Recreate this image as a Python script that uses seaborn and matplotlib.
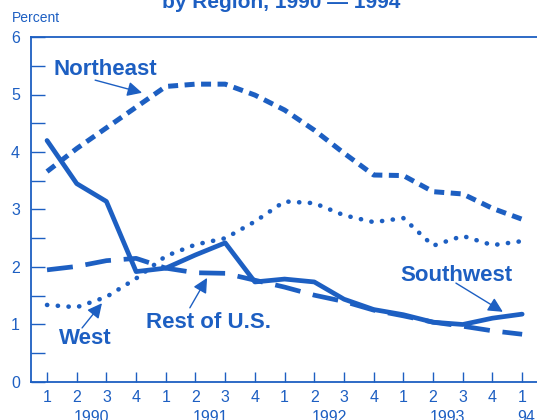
import numpy as np
import pandas as pd
import seaborn as sns
import matplotlib.pyplot as plt

# quarterly values, 1990 Q1 .. 1994 Q1 (percent)
quarters = ['1', '2', '3', '4'] * 4 + ['1']
years = ['1990', '1991', '1992', '1993', '94']
year_pos = [1.5, 5.5, 9.5, 13.5, 16.15]

northeast = [3.66, 4.06, 4.42, 4.78, 5.14, 5.18, 5.18, 4.99, 4.73, 4.38, 3.98, 3.60, 3.59, 3.31, 3.27, 3.02, 2.83]
southwest = [4.20, 3.45, 3.14, 1.92, 1.98, 2.21, 2.42, 1.74, 1.79, 1.74, 1.44, 1.26, 1.17, 1.04, 1.00, 1.11, 1.18]
west = [1.34, 1.30, 1.48, 1.80, 2.19, 2.39, 2.50, 2.79, 3.14, 3.11, 2.90, 2.78, 2.85, 2.37, 2.54, 2.38, 2.45]
rest_us = [1.95, 2.01, 2.11, 2.15, 1.98, 1.90, 1.89, 1.77, 1.65, 1.51, 1.40, 1.25, 1.15, 1.04, 0.97, 0.89, 0.83]

blue = '#1d5fc2'

sns.set_theme(style='white')
plt.rcParams['font.family'] = ['Liberation Sans', 'DejaVu Sans']

df = pd.DataFrame({'t': np.arange(len(quarters)),
                   'Northeast': northeast, 'Southwest': southwest,
                   'West': west, 'Rest of U.S.': rest_us})

fig = plt.figure(figsize=(5.37, 4.2), dpi=100)
ax = fig.add_axes([0.0577, 0.0905, 0.9423, 0.8214])

# line styles per region
styles = {
    'Northeast': dict(linestyle=(0, (2.0, 1.3)), linewidth=3.6),
    'Southwest': dict(linestyle='-', linewidth=3.4),
    'West': dict(linestyle=(0, (0.05, 2.3)), linewidth=3.3, dash_capstyle='round'),
    'Rest of U.S.': dict(linestyle=(0, (5.5, 2.7)), linewidth=3.4),
}
for name, kw in styles.items():
    sns.lineplot(data=df, x='t', y=name, ax=ax, color=blue, **kw)

ax.set_xlim(-0.54, 16.5)
ax.set_ylim(0, 6)
ax.set_xlabel('')
ax.set_ylabel('')

ax.set_xticks(np.arange(len(quarters)))
ax.set_xticklabels(quarters)
ax.set_yticks(range(7))
ax.set_yticks(np.arange(0.5, 6, 1.0), minor=True)
ax.tick_params(axis='x', direction='in', length=7, width=1, color=blue,
               labelcolor=blue, labelsize=11.5, pad=6, bottom=True)
ax.tick_params(axis='y', which='both', direction='in', length=10, width=1,
               color=blue, labelcolor=blue, labelsize=11.5, pad=8, left=True)

for side in ['left', 'bottom', 'top']:
    ax.spines[side].set_color(blue)
    ax.spines[side].set_linewidth(1.3)
ax.spines['right'].set_visible(False)

for pos, yr in zip(year_pos, years):
    ax.text(pos, -0.49, yr, ha='center', va='top', color=blue, fontsize=11.5,
            transform=ax.transData, clip_on=False)

# labels and arrows
def label(text, tx, ty, tail, head):
    ax.text(tx, ty, text, ha='center', va='center', color=blue,
            fontsize=16, fontweight='bold')
    ax.annotate('', xy=head, xytext=tail,
                arrowprops=dict(arrowstyle='-|>', color=blue, lw=1.0,
                                mutation_scale=22, shrinkA=0, shrinkB=0))

label('Northeast', 1.95, 5.43, (1.62, 5.25), (3.2, 5.03))
label('West', 1.28, 0.75, (1.18, 0.94), (1.85, 1.37))
label('Rest of U.S.', 5.45, 1.03, (4.81, 1.29), (5.39, 1.81))
label('Southwest', 13.8, 1.86, (13.77, 1.72), (15.35, 1.22))

fig.text(0.022, 0.957, 'Percent', ha='left', va='center', color=blue, fontsize=10)
fig.text(0.523, 0.981, 'by Region, 1990 \u2014 1994', ha='center', va='baseline',
         color=blue, fontsize=15, fontweight='bold')

fig.savefig('out.png', dpi=100)
